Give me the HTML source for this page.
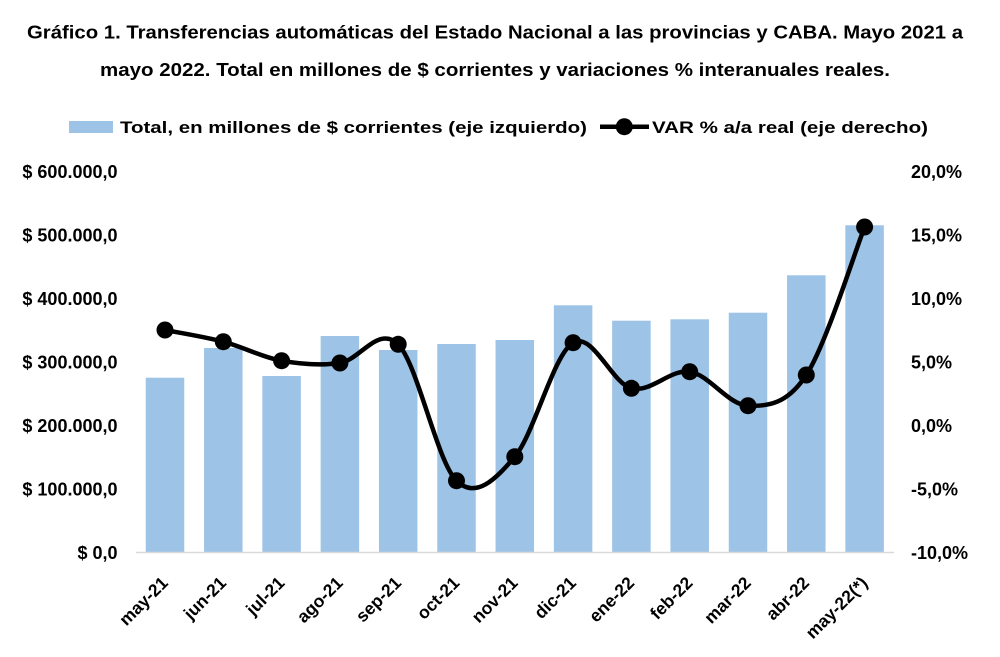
<!DOCTYPE html>
<html><head><meta charset="utf-8"><style>
html,body{margin:0;padding:0;background:#fff;}
svg{display:block;}
text{font-family:"Liberation Sans",Arial,sans-serif;font-weight:bold;fill:#000;}
</style></head><body>
<svg width="1000" height="657" viewBox="0 0 1000 657" xmlns="http://www.w3.org/2000/svg">
<rect width="1000" height="657" fill="#fff"/>
<text x="495" y="38.5" font-size="18" text-anchor="middle" textLength="936" lengthAdjust="spacingAndGlyphs">Gráfico 1. Transferencias automáticas del Estado Nacional a las provincias y CABA. Mayo 2021 a</text>
<text x="495" y="76" font-size="18" text-anchor="middle" textLength="790" lengthAdjust="spacingAndGlyphs">mayo 2022. Total en millones de $ corrientes y variaciones % interanuales reales.</text>
<rect x="69" y="121" width="44" height="12" fill="#9DC3E6"/>
<text x="120" y="133" font-size="17" textLength="467" lengthAdjust="spacingAndGlyphs">Total, en millones de $ corrientes (eje izquierdo)</text>
<line x1="600" y1="126.7" x2="649" y2="126.7" stroke="#000" stroke-width="4.5"/>
<circle cx="624.3" cy="126.7" r="8.5" fill="#000"/>
<text x="652" y="133" font-size="17" textLength="276" lengthAdjust="spacingAndGlyphs">VAR % a/a real (eje derecho)</text>
<g font-size="18" text-anchor="end">
<text x="117.5" y="178">$ 600.000,0</text>
<text x="117.5" y="241.5">$ 500.000,0</text>
<text x="117.5" y="305">$ 400.000,0</text>
<text x="117.5" y="368.5">$ 300.000,0</text>
<text x="117.5" y="432">$ 200.000,0</text>
<text x="117.5" y="495.5">$ 100.000,0</text>
<text x="117.5" y="559">$ 0,0</text>
</g>
<g font-size="18">
<text x="911" y="178">20,0%</text>
<text x="911" y="241.5">15,0%</text>
<text x="911" y="305">10,0%</text>
<text x="911" y="368.5">5,0%</text>
<text x="911" y="432">0,0%</text>
<text x="911" y="495.5">-5,0%</text>
<text x="911" y="559">-10,0%</text>
</g>
<g fill="#9DC3E6">
<rect x="145.75" y="377.7" width="38.5" height="174.8"/>
<rect x="204.05" y="348" width="38.5" height="204.5"/>
<rect x="262.35" y="376" width="38.5" height="176.5"/>
<rect x="320.65" y="336" width="38.5" height="216.5"/>
<rect x="378.95" y="350" width="38.5" height="202.5"/>
<rect x="437.25" y="344" width="38.5" height="208.5"/>
<rect x="495.55" y="340" width="38.5" height="212.5"/>
<rect x="553.85" y="305.3" width="38.5" height="247.2"/>
<rect x="612.15" y="320.7" width="38.5" height="231.8"/>
<rect x="670.45" y="319.3" width="38.5" height="233.2"/>
<rect x="728.75" y="312.7" width="38.5" height="239.8"/>
<rect x="787.05" y="275.3" width="38.5" height="277.2"/>
<rect x="845.35" y="225.3" width="38.5" height="327.2"/>
</g>
<line x1="136" y1="552.5" x2="894" y2="552.5" stroke="#D9D9D9" stroke-width="1.5"/>
<path fill="none" stroke="#000" stroke-width="4.5" stroke-linejoin="round" stroke-linecap="round" d="M165,330 C174.72,331.95 203.87,336.58 223.3,341.7 C242.73,346.82 262.17,357.15 281.6,360.7 C301.03,364.25 320.47,365.73 339.9,363 C359.33,360.27 378.77,324.68 398.2,344.3 C417.63,363.92 437.07,461.97 456.5,480.7 C475.93,499.43 495.37,479.7 514.8,456.7 C534.23,433.7 553.67,354.1 573.1,342.7 C592.53,331.3 611.97,383.47 631.4,388.3 C650.83,393.13 670.27,368.8 689.7,371.7 C709.13,374.6 728.57,405.15 748,405.7 C767.43,406.25 786.87,404.78 806.3,375 C825.73,345.22 854.88,251.67 864.6,227"/>
<g fill="#000">
<circle cx="165" cy="330" r="8.5"/>
<circle cx="223.3" cy="341.7" r="8.5"/>
<circle cx="281.6" cy="360.7" r="8.5"/>
<circle cx="339.9" cy="363" r="8.5"/>
<circle cx="398.2" cy="344.3" r="8.5"/>
<circle cx="456.5" cy="480.7" r="8.5"/>
<circle cx="514.8" cy="456.7" r="8.5"/>
<circle cx="573.1" cy="342.7" r="8.5"/>
<circle cx="631.4" cy="388.3" r="8.5"/>
<circle cx="689.7" cy="371.7" r="8.5"/>
<circle cx="748" cy="405.7" r="8.5"/>
<circle cx="806.3" cy="375" r="8.5"/>
<circle cx="864.6" cy="227" r="8.5"/>
</g>
<g font-size="17.5" text-anchor="end">
<text transform="translate(169,584) rotate(-45)">may-21</text>
<text transform="translate(227.3,584) rotate(-45)">jun-21</text>
<text transform="translate(285.6,584) rotate(-45)">jul-21</text>
<text transform="translate(343.9,584) rotate(-45)">ago-21</text>
<text transform="translate(402.2,584) rotate(-45)">sep-21</text>
<text transform="translate(460.5,584) rotate(-45)">oct-21</text>
<text transform="translate(518.8,584) rotate(-45)">nov-21</text>
<text transform="translate(577.1,584) rotate(-45)">dic-21</text>
<text transform="translate(635.4,584) rotate(-45)">ene-22</text>
<text transform="translate(693.7,584) rotate(-45)">feb-22</text>
<text transform="translate(752,584) rotate(-45)">mar-22</text>
<text transform="translate(810.3,584) rotate(-45)">abr-22</text>
<text transform="translate(868.6,584) rotate(-45)">may-22(*)</text>
</g>
</svg>
</body></html>
